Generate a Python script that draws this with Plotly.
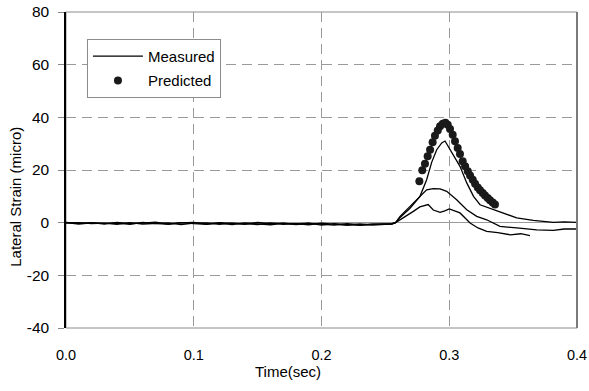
import plotly.graph_objects as go

# ---------------- data ----------------
base_t = [0.00, 0.01, 0.02, 0.03, 0.04, 0.05, 0.06, 0.07, 0.08, 0.09, 0.10, 0.11, 0.12,
          0.13, 0.14, 0.15, 0.16, 0.17, 0.18, 0.19, 0.20, 0.21, 0.22, 0.23, 0.24, 0.25, 0.255]

m1_base = [0.1, -0.3, 0.0, -0.5, 0.1, -0.4, -0.2, 0.2, -0.6, -0.1, 0.1, -0.5, 0.0,
           -0.3, -0.6, 0.1, -0.4, -0.2, -0.7, -0.3, -0.5, -0.9, -0.4, -0.8, -0.6, -0.5, -0.4]
m2_base = [-0.2, 0.0, -0.4, -0.2, -0.6, 0.0, -0.5, -0.3, -0.1, -0.7, -0.2, -0.1, -0.6,
           -0.2, -0.4, -0.7, -0.1, -0.6, -0.4, -0.8, -0.2, -0.6, -1.0, -0.5, -0.9, -0.6, -0.5]
m3_base = [0.0, -0.5, -0.1, -0.3, -0.2, -0.6, 0.1, -0.4, -0.5, 0.0, -0.4, -0.6, -0.2,
           -0.7, -0.1, -0.5, -0.8, -0.3, -0.5, -0.2, -0.9, -0.4, -0.7, -1.0, -0.6, -0.7, -0.5]

m1_t = [0.258, 0.2615, 0.2693, 0.2771, 0.2823, 0.2863, 0.2902, 0.2941, 0.2967, 0.3006,
        0.3084, 0.3137, 0.319, 0.3241, 0.3345, 0.3424, 0.3528, 0.3658, 0.3815, 0.39, 0.40]
m1_v = [0.0, 2.0, 5.5, 10.0, 16.3, 23.0, 27.7, 30.3, 31.0, 27.7,
        21.4, 15.1, 10.0, 6.8, 4.9, 3.7, 1.8, 0.9, 0.1, 0.3, 0.1]

m2_t = [0.258, 0.2615, 0.2693, 0.2771, 0.2823, 0.2875, 0.2928, 0.298, 0.3058, 0.3137,
        0.3215, 0.3293, 0.3397, 0.3528, 0.3685, 0.3815, 0.39, 0.40]
m2_v = [0.0, 2.4, 6.2, 10.0, 12.5, 12.9, 12.8, 11.9, 8.7, 4.9,
        2.4, 1.1, -1.4, -2.0, -2.7, -2.9, -2.4, -2.4]

m3_t = [0.258, 0.2641, 0.2719, 0.277, 0.281, 0.2835, 0.2875, 0.2928, 0.2965, 0.300,
        0.3084, 0.3163, 0.3225, 0.3293, 0.3380, 0.3476, 0.3560, 0.3632]
m3_v = [0.0, 1.8, 4.3, 6.0, 6.5, 6.9, 4.8, 3.9, 4.5, 5.2,
        3.7, -0.1, -2.0, -3.3, -3.8, -4.6, -4.2, -4.9]

pred_t = [0.2766, 0.2789, 0.2810, 0.2831, 0.2850, 0.2870, 0.2888, 0.2910, 0.2928, 0.2949,
          0.2970, 0.2988, 0.3006, 0.3027, 0.3045, 0.3066, 0.3084, 0.3105, 0.3124, 0.3145,
          0.3163, 0.3184, 0.3202, 0.3223, 0.3241, 0.3262, 0.3280, 0.3301, 0.3319, 0.3340, 0.3358]
pred_v = [15.7, 19.9, 22.4, 25.2, 27.7, 30.5, 33.0, 35.0, 36.6, 37.6,
          37.9, 37.2, 35.6, 33.4, 30.9, 28.4, 26.1, 23.3, 21.4, 19.5,
          17.9, 16.3, 14.8, 13.4, 12.3, 11.3, 10.3, 9.4, 8.5, 7.7, 6.9]

x_ticks = [0.0, 0.1, 0.2, 0.3, 0.4]
x_tick_labels = ["0.0", "0.1", "0.2", "0.3", "0.4"]
y_ticks = [-40, -20, 0, 20, 40, 60, 80]
y_tick_labels = ["-40", "-20", "0", "20", "40", "60", "80"]

# ---------------- figure ----------------
FONT = "Liberation Sans, Arial, sans-serif"
line_style = dict(color="black", width=1.3)

fig = go.Figure()
fig.add_trace(go.Scatter(x=base_t + m1_t, y=m1_base + m1_v, mode="lines", line=line_style,
                         name="Measured", legendgroup="a", showlegend=True))
fig.add_trace(go.Scatter(x=base_t + m2_t, y=m2_base + m2_v, mode="lines", line=line_style,
                         name="Measured", legendgroup="a", showlegend=False))
fig.add_trace(go.Scatter(x=base_t + m3_t, y=m3_base + m3_v, mode="lines", line=line_style,
                         name="Measured", legendgroup="a", showlegend=False))
fig.add_trace(go.Scatter(x=pred_t, y=pred_v, mode="markers",
                         marker=dict(color="#1a1a1a", size=8), name="Predicted", legendgroup="b"))

grid = dict(showgrid=True, gridcolor="#9a9a9a", gridwidth=1, griddash="10px,6px")

fig.update_layout(
    width=589, height=391,
    margin=dict(l=66, r=12, t=12, b=63),
    paper_bgcolor="white", plot_bgcolor="white",
    font=dict(family=FONT, size=14, color="black"),
    showlegend=True,
    legend=dict(x=0.041, y=0.915, xanchor="left", yanchor="top",
                bordercolor="#8c8c8c", borderwidth=1, bgcolor="white",
                font=dict(family=FONT, size=15), traceorder="grouped", tracegroupgap=2,
                itemwidth=50),
    xaxis=dict(range=[0, 0.4], tickvals=x_ticks, ticktext=x_tick_labels, automargin=False,
               showline=False, ticks="", ticklabelstandoff=16,
               tickfont=dict(size=14.5), zeroline=False, **grid),
    yaxis=dict(range=[-40, 80], tickvals=y_ticks, ticktext=y_tick_labels, automargin=False,
               showline=True, linecolor="black", linewidth=1.5,
               ticks="outside", ticklen=6, tickcolor="#888888", ticklabelstandoff=6,
               tickfont=dict(size=15.5),
               zeroline=True, zerolinecolor="#9a9a9a", zerolinewidth=1.2, **grid),
    shapes=[
        dict(type="rect", xref="paper", yref="paper", x0=0, x1=1, y0=0, y1=1,
             line=dict(color="#8c8c8c", width=1), layer="below"),
        dict(type="line", xref="paper", yref="paper", x0=1, x1=1, y0=0, y1=1,
             line=dict(color="#7a7a7a", width=2)),
    ],
    annotations=[
        dict(text="Time(sec)", xref="paper", yref="paper", x=0.434, y=-0.139,
             showarrow=False, font=dict(family=FONT, size=15), xanchor="center", yanchor="middle"),
        dict(text="Lateral Strain (micro)", xref="paper", yref="paper", x=-0.098, y=0.415,
             showarrow=False, textangle=-90, font=dict(family=FONT, size=15),
             xanchor="center", yanchor="middle"),
    ],
)

# remove the browser's default 8px body margin so the figure sits at the window origin
fig.write_html("out.html", config={"displayModeBar": False},
               post_script="document.body.style.margin='0px';")
